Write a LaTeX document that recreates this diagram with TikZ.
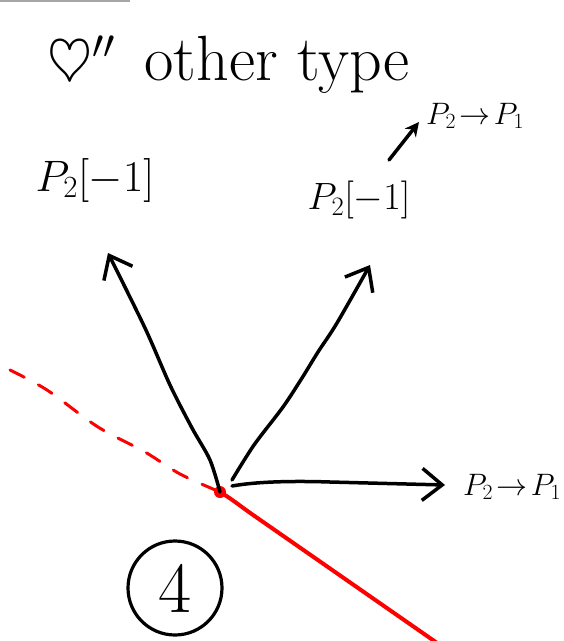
\RequirePackage{fix-cm}
\documentclass[tikz,border=0pt]{standalone}
\usetikzlibrary{arrows.meta,positioning}
\definecolor{penred}{HTML}{FF0000}
\begin{document}
\begin{tikzpicture}[x=1pt,y=-1pt,
  pen/.style={black,line width=3.5pt,line cap=round,line join=round},
  redpen/.style={penred,line width=4pt,line cap=round},
  openhead/.style={-{Straight Barb[length=20pt,width=32pt]}},
  smallhead/.style={-{Stealth[length=14pt,width=14pt]}}]
  \useasboundingbox (0,0) rectangle (564,641);
  \draw[black!35,line width=2pt] (0,0.5) -- (130,0.5);
  \node[font=\fontsize{58}{60}\selectfont,anchor=base west] (heart) at (44,80) {$\heartsuit''$};
  \node[font=\fontsize{64}{70}\selectfont,right=22pt of heart.base east,anchor=base west] (title) {other type};
  \node[font=\fontsize{44}{48}\selectfont] (lblL) at (95,180) {$P_2[-1]$};
  \node[font=\fontsize{38}{40}\selectfont] (lblM) at (359,200) {$P_2[-1]$};
  \node[font=\fontsize{31}{36}\selectfont] (lblT) at (475,116) {$P_2\!\to\! P_1$};
  \node[font=\fontsize{31}{36}\selectfont] (lblR) at (512,487) {$P_2\!\to\! P_1$};
  \coordinate (o) at (220,492);
  \coordinate (tipL) at (108,253);
  \coordinate (tipM) at (370,265);
  \coordinate (tipR) at (445,485);
  \coordinate (smallA) at (389,160);
  \coordinate (smallB) at (419,122);
  \draw[redpen,line width=3pt,dash pattern=on 16pt off 16pt]
    plot[smooth] coordinates {(10,370) (47,390) (98,427) (145,452) (180,474) (o)};
  \draw[redpen] (o) .. controls (232,499) and (240,506) .. (256,517) -- (440,645);
  \fill[penred] (o) circle (6);
  \draw[pen,openhead] plot[smooth] coordinates {(o) (210,460) (192,428) (170,385) (145,328) (tipL)};
  \draw[pen,openhead] plot[smooth] coordinates {([shift={(12,-12)}]o) (254,445) (283,407) (302,378) (318,352) (337,323) (tipM)};
  \draw[pen,openhead] ([shift={(12,-6)}]o) .. controls (260,481) and (300,481) .. (330,482) -- (tipR);
  \draw[pen,smallhead] (smallA) -- (smallB);
  \node[draw,circle,line width=3.2pt,minimum size=94pt,inner sep=0pt,font=\fontsize{72}{72}\selectfont] (four) at (175,588) {4};
\end{tikzpicture}
\end{document}
